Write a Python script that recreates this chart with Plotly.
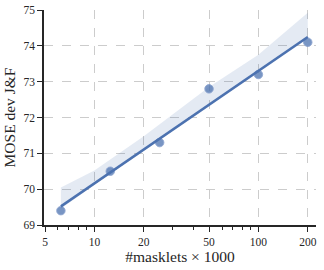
import numpy as np
import plotly.graph_objects as go

# data
masklets_k = [6.25, 12.5, 25, 50, 100, 200]
mose_jf = [69.4, 70.5, 71.3, 72.8, 73.2, 74.1]

# confidence band
band_x = [6.25, 10, 20, 50, 100, 200]
band_upper = [70.05, 70.52, 71.48, 72.85, 73.75, 74.92]
band_lower = [69.45, 70.12, 71.08, 72.32, 73.26, 74.2]

x_ticks = [5, 10, 20, 50, 100, 200]
x_minor = [6, 7, 8, 9, 30, 40, 60, 70, 80, 90]
y_ticks = [69, 70, 71, 72, 73, 74, 75]

blue = "#4c72b0"
font = "Liberation Serif"

# regression of y on log10(x)
lx = np.log10(masklets_k)
slope, intercept = np.polyfit(lx, mose_jf, 1)
fit_x = [masklets_k[0], masklets_k[-1]]
fit_y = [intercept + slope * np.log10(v) for v in fit_x]

fig = go.Figure()
fig.add_trace(go.Scatter(
    x=band_x + band_x[::-1], y=band_upper + band_lower[::-1],
    fill="toself", fillcolor="rgba(76,114,176,0.15)",
    line=dict(width=0), mode="lines", hoverinfo="skip", showlegend=False))
fig.add_trace(go.Scatter(
    x=masklets_k, y=mose_jf, mode="markers",
    marker=dict(color=blue, size=8.5, opacity=0.75,
                line=dict(width=1, color="rgba(110,140,195,0.9)")),
    showlegend=False))
fig.add_trace(go.Scatter(
    x=fit_x, y=fit_y, mode="lines",
    line=dict(color=blue, width=2.5), showlegend=False))

axis_common = dict(
    showline=True, linecolor="#262626", linewidth=1.5,
    ticks="outside", ticklen=5, tickwidth=1.2, tickcolor="#262626",
    showgrid=True, gridcolor="#cccccc", griddash="dash", gridwidth=1,
    zeroline=False, mirror=False, automargin=False,
    tickfont=dict(family=font, size=11.5, color="#262626"),
)

fig.update_xaxes(
    type="log", range=[np.log10(4.93), np.log10(224.5)],
    tickvals=x_ticks, ticktext=[str(v) for v in x_ticks],
    minor=dict(tickvals=x_minor, ticks="outside", ticklen=3, tickwidth=1.2,
               tickcolor="#262626", showgrid=False),
    title=dict(text="#masklets × 1000", font=dict(family=font, size=15.5, color="#262626"),
               standoff=4),
    **axis_common)
fig.update_yaxes(
    range=[69, 75], tickvals=y_ticks,
    title=dict(text="MOSE dev J&F", font=dict(family=font, size=15.5, color="#262626"),
               standoff=4),
    **axis_common)

fig.update_layout(
    width=324, height=270,
    margin=dict(l=44, r=8, t=10, b=45, autoexpand=False),
    plot_bgcolor="white", paper_bgcolor="white",
    showlegend=False,
)
fig.write_html("out.html", config={"displayModeBar": False},
               post_script="document.body.style.margin='0px';")
